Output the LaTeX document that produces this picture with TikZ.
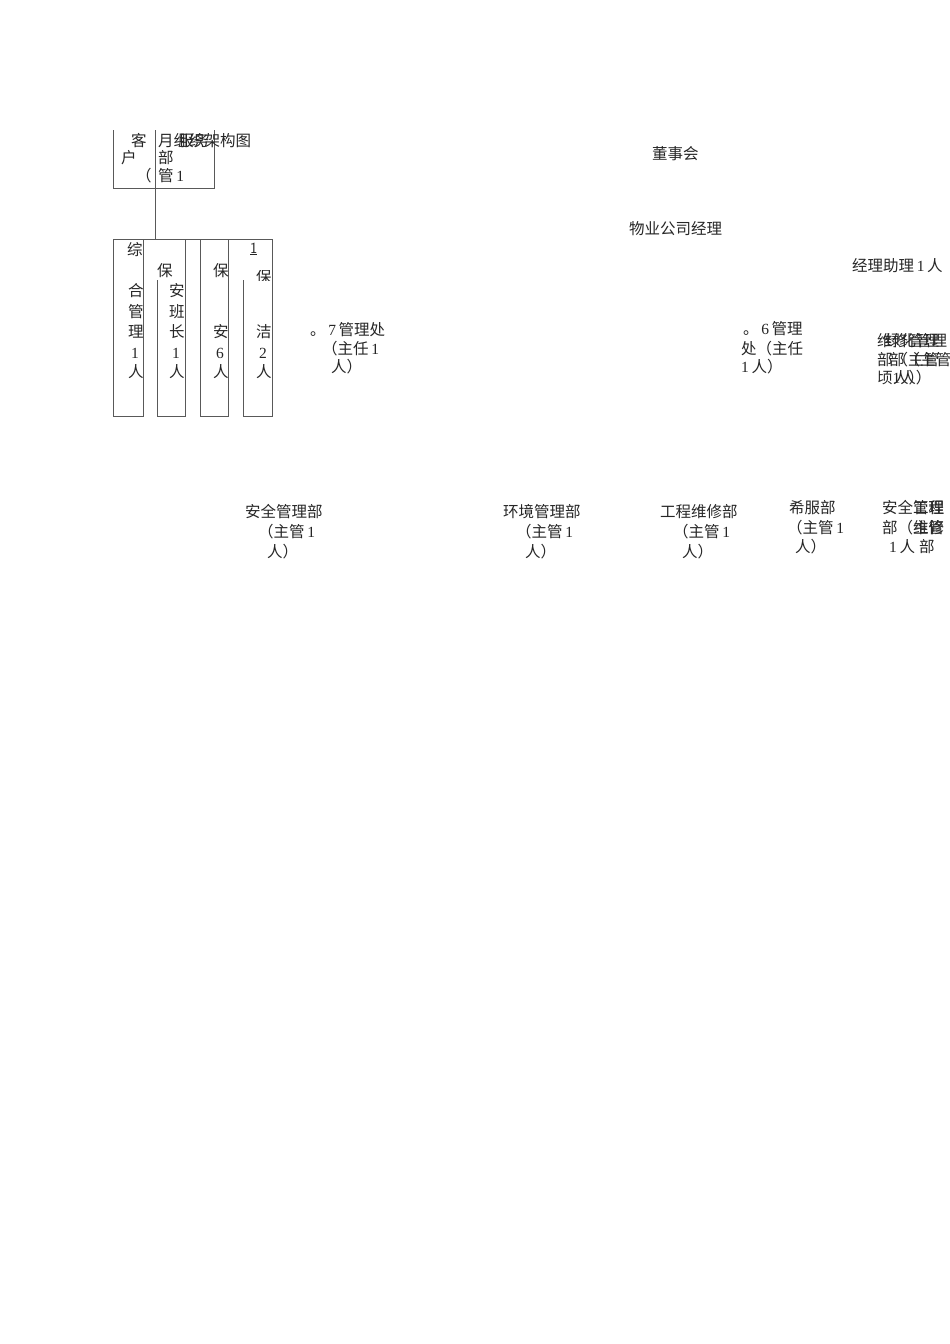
\documentclass[tikz,border=0pt]{standalone}
\usepackage{fontspec}
\setmainfont{Liberation Serif}
\newfontfamily\cjk{Noto Sans CJK SC}
\newcommand\dg[1]{{\rmfamily\,#1\,}}
\newcommand\dn[1]{{\rmfamily #1}}
\tikzset{
  t/.style={inner sep=0pt, anchor=west, font=\cjk\fontsize{15.5}{18}\selectfont, text=black!85},
  ln/.style={draw=black!65, line width=0.9pt},
}
\begin{document}
\begin{tikzpicture}[x=1pt,y=-1pt]
\useasboundingbox[fill=white] (0,0) rectangle (950,1344);
% title box
\draw[ln] (113,130) -- (113,188) -- (214,188) -- (214,130);
\draw[ln] (155,130) -- (155,239);
\node[t] (k1) at (131,141) {客};
\node[t] (k2) at (121,158) {户};
\node[t] (k3) at (136,176) {（};
\node[t] (m1) at (158,141) {月组织架构图};
\node[t] (m1b) at (178,141) {服务};
\node[t] (m2) at (158,158) {部};
\node[t] (m3) at (158,176) {管\dg{1}};
% boxes row
\draw[ln] (143,239) -- (215,239);
\draw[ln] (113,239) rectangle (143,416);
\draw[ln] (157,280) -- (157,416) -- (185,416) -- (185,239);
\draw[ln] (200,239) rectangle (228,416);
\draw[ln] (228,239) -- (272,239) -- (272,416) -- (243,416) -- (243,280);
\node[t] at (127,250) {综};
\node[t] at (128,291) {合};
\node[t] at (128,312) {管};
\node[t] at (128,332) {理};
\node[t] at (131,353) {\dn{1}};
\node[t] at (128,372) {人};
\node[t] at (157,271) {保};
\node[t] at (169,291) {安};
\node[t] at (169,312) {班};
\node[t] at (169,332) {长};
\node[t] at (172,353) {\dn{1}};
\node[t] at (169,372) {人};
\node[t] at (213,271) {保};
\node[t] at (213,332) {安};
\node[t] at (216,353) {\dn{6}};
\node[t] at (213,372) {人};
\node[t] at (250,249) {\dn{\underline{\sffamily 1}}};
\begin{scope}
\clip (245,270) rectangle (272,280);
\node[t] at (256,277) {保};
\end{scope}
\node[t] at (256,332) {洁};
\node[t] at (259,353) {\dn{2}};
\node[t] at (256,372) {人};
% 7 management office
\node[t] at (310,330) {。\dg{7}管理处};
\node[t] at (322,349) {（主任\dg{1}};
\node[t] at (331,367) {人）};
% top chain
\node[t] (dsh) at (652,154) {董事会};
\node[t] (jl) at (629,229) {物业公司经理};
\node[t] (zl) at (852,266) {经理助理\dg{1}人};
% 6 management office
\node[t] at (743,329) {。\dg{6}管理};
\node[t] at (741,349) {处（主任};
\node[t] at (741,367) {\dn{1}\,人）};
% overlapping right column
\node[t] at (877,341) {维修管理};
\node[t] at (885,341) {绿化管理};
\node[t] at (877,360) {部（主管};
\node[t] at (889,360) {部（主管};
\node[t] at (877,378) {顷\dn{1}人）};
\node[t] at (893,378) {人）};
% bottom departments
\node[t] at (245,512) {安全管理部};
\node[t] at (258,532) {（主管\dg{1}};
\node[t] at (267,552) {人）};
\node[t] at (503,512) {环境管理部};
\node[t] at (516,532) {（主管\dg{1}};
\node[t] at (525,552) {人）};
\node[t] at (660,512) {工程维修部};
\node[t] at (673,532) {（主管\dg{1}};
\node[t] at (682,552) {人）};
\node[t] at (789,508) {希服部};
\node[t] at (787,528) {（主管\dg{1}};
\node[t] at (795,547) {人）};
\node[t] at (882,508) {安全管理};
\node[t] at (913,508) {工程};
\node[t] at (882,528) {部（主管};
\node[t] at (913,528) {维修};
\node[t] at (889,547) {\dn{1}\,人};
\node[t] at (919,547) {部};
\end{tikzpicture}
\end{document}
